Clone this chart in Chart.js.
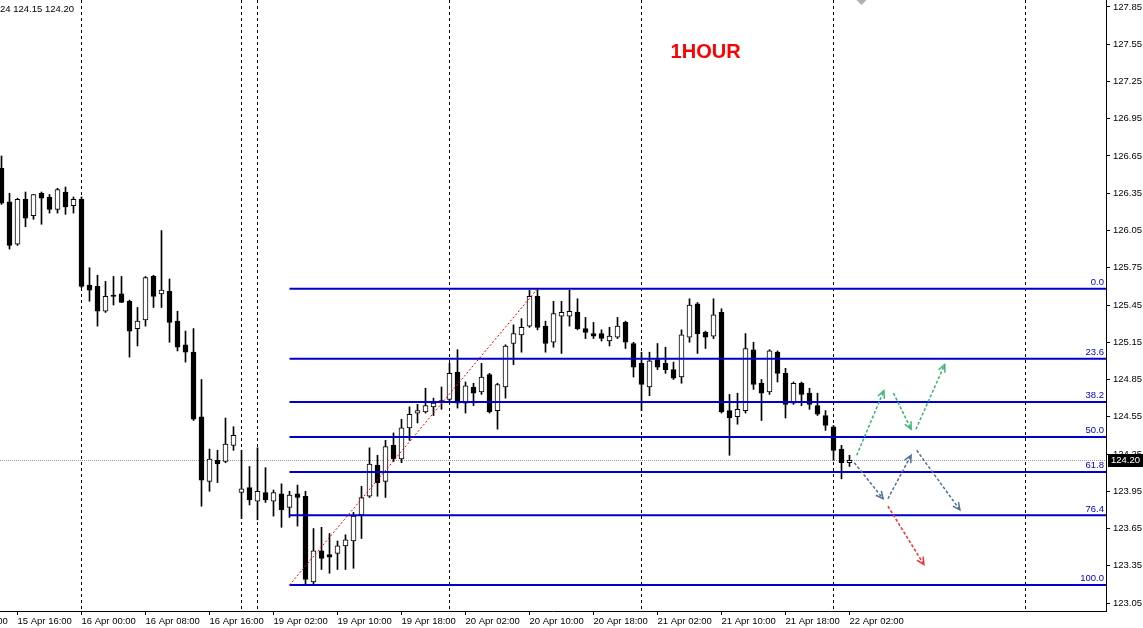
<!DOCTYPE html>
<html>
<head>
<meta charset="utf-8">
<script src="https://cdn.jsdelivr.net/npm/chart.js@4.4.0/dist/chart.umd.min.js"></script>
<style>
html, body { margin: 0; padding: 0; background: #fff; }
#wrap { width: 1143px; height: 628px; }
</style>
</head>
<body>
<div id="wrap"><canvas id="chart" width="1143" height="628"></canvas></div>
<script>
// H1 candles, bar 0 = 15 Apr 14:00 (bar index is the x value)
const opens = [126.55,126.28,125.94,126.30,126.17,126.35,126.32,126.22,126.36,126.25,
  126.30,125.61,125.60,125.40,125.53,125.54,125.48,125.26,125.33,125.68,
  125.54,125.56,125.32,125.13,125.07,124.55,124.03,124.20,124.19,124.32,
  123.94,123.98,123.87,123.94,123.87,123.93,123.82,123.93,123.91,123.22,
  123.47,123.44,123.45,123.51,123.55,123.76,123.91,124.16,124.03,124.32,
  124.21,124.46,124.58,124.59,124.63,124.68,124.69,124.91,124.66,124.79,
  124.75,124.89,124.60,124.79,125.14,125.21,125.28,125.52,125.28,125.15,
  125.36,125.36,125.39,125.26,125.22,125.22,125.16,125.19,125.31,125.14,
  124.98,124.79,125.01,124.98,124.93,124.87,125.19,125.46,125.23,125.20,
  125.39,124.60,124.55,124.60,125.09,124.82,124.75,125.07,124.90,124.66,
  124.82,124.74,124.64,124.56,124.47,124.29,124.18];
const highs = [126.65,126.35,126.31,126.36,126.34,126.36,126.34,126.39,126.40,126.32,
  126.32,125.75,125.69,125.64,125.68,125.68,125.49,125.43,125.68,125.69,
  126.05,125.66,125.40,125.24,125.26,124.85,124.29,124.28,124.54,124.47,
  124.28,124.15,124.30,124.14,123.96,124.01,123.95,124.00,123.95,123.65,
  123.66,123.61,123.55,123.60,123.78,123.99,124.30,124.24,124.36,124.42,
  124.53,124.63,124.65,124.78,124.70,124.79,124.98,125.09,124.83,124.82,
  124.98,124.90,124.82,125.13,125.29,125.34,125.57,125.58,125.32,125.48,
  125.48,125.57,125.50,125.35,125.31,125.25,125.27,125.35,125.32,125.15,
  125.07,125.07,125.14,125.11,124.99,125.25,125.50,125.47,125.24,125.50,
  125.42,124.73,124.74,125.22,125.15,124.85,125.09,125.08,124.94,124.83,
  124.83,124.78,124.74,124.60,124.48,124.32,124.24];
const lows = [126.26,125.90,125.93,126.08,126.14,126.10,126.19,126.19,126.18,126.19,
  125.59,125.48,125.28,125.39,125.45,125.47,125.03,125.12,125.28,125.43,
  125.43,125.15,125.08,124.99,124.52,123.83,123.95,124.02,124.18,124.28,
  123.73,123.84,123.72,123.86,123.75,123.66,123.74,123.67,123.20,123.20,
  123.32,123.29,123.32,123.32,123.33,123.57,123.90,123.91,123.90,124.19,
  124.18,124.36,124.50,124.58,124.56,124.61,124.67,124.62,124.58,124.64,
  124.73,124.58,124.45,124.70,124.97,125.07,125.27,125.25,125.07,125.11,
  125.06,125.28,125.25,125.18,125.18,125.16,125.12,125.18,125.10,124.87,
  124.60,124.72,124.93,124.90,124.85,124.82,125.15,125.06,125.10,125.18,
  124.58,124.24,124.49,124.58,124.77,124.52,124.73,124.83,124.54,124.65,
  124.64,124.61,124.56,124.44,124.20,124.05,124.15];
const closes = [126.27,125.93,126.30,126.15,126.34,126.31,126.22,126.38,126.24,126.30,
  125.60,125.57,125.40,125.52,125.52,125.47,125.24,125.32,125.67,125.52,
  125.57,125.31,125.11,125.07,124.53,124.04,124.21,124.17,124.33,124.40,
  123.97,123.88,123.95,123.88,123.94,123.80,123.92,123.90,123.24,123.47,
  123.41,123.42,123.51,123.56,123.75,123.90,124.17,124.02,124.31,124.21,
  124.46,124.57,124.60,124.64,124.66,124.67,124.90,124.66,124.80,124.74,
  124.87,124.59,124.81,125.12,125.22,125.27,125.52,125.27,125.14,125.38,
  125.39,125.40,125.26,125.23,125.20,125.18,125.20,125.28,125.15,124.95,
  124.81,125.00,124.95,124.93,124.86,125.21,125.45,125.22,125.19,125.37,
  124.59,124.54,124.61,125.10,124.81,124.74,125.08,124.90,124.65,124.82,
  124.73,124.65,124.57,124.48,124.28,124.18,124.20];

// time axis labels (bar index of each label)
const tickBars = [-6, 2, 10, 18, 26, 34, 42, 50, 58, 66, 74, 82, 90, 98, 106];
const timeLabels = ['15 Apr 08:00', '15 Apr 16:00', '16 Apr 00:00', '16 Apr 08:00', '16 Apr 16:00',
  '19 Apr 02:00', '19 Apr 10:00', '19 Apr 18:00', '20 Apr 02:00', '20 Apr 10:00',
  '20 Apr 18:00', '21 Apr 02:00', '21 Apr 10:00', '21 Apr 18:00', '22 Apr 02:00'];
// day separators
const separatorBars = [10, 30, 32, 56, 80, 104, 128];
const priceTicks = [123.05, 123.35, 123.65, 123.95, 124.25, 124.55, 124.85, 125.15, 125.45,
  125.75, 126.05, 126.35, 126.65, 126.95, 127.25, 127.55, 127.85];

// fibonacci retracement
const fibLevels = [0.0, 23.6, 38.2, 50.0, 61.8, 76.4, 100.0];
const fibHigh = 125.58, fibLow = 123.195;
const fibLowBar = 36, fibHighBar = 67;

// projected paths: [fromBar, fromPrice, toBar, toPrice]
const arrowsGreen = [[106.9, 124.24, 110.3, 124.76], [111.5, 124.74, 113.7, 124.45], [114.3, 124.45, 117.9, 124.97]];
const arrowsBlue = [[106.6, 124.18, 110.2, 123.89], [110.8, 123.89, 113.7, 124.24], [114.4, 124.28, 119.8, 123.80]];
const arrowsRed = [[110.8, 123.83, 115.3, 123.36]];

const lastPrice = closes[closes.length - 1];
const infoText = '24 124.15 124.20';
const titleText = '1HOUR';

const xMin = -0.1875, xMax = xMin + 1106 / 8;
const yMin = 122.986, yMax = 127.906;
const fibBlue = '#0000cd';
const tickFont = { family: 'Liberation Sans', size: 9.5 };

function fibPrice(lvl) {
    return fibHigh - (fibHigh - fibLow) * lvl / 100;
}

const wickData = highs.map((h, i) => ({ x: i, y: [lows[i], h] }));
const bodyData = opens.map((o, i) => ({ x: i, y: [o, closes[i]] }));
const isUp = i => closes[i] >= opens[i];

const fibSets = fibLevels.map(lvl => ({
    type: 'line',
    data: [{ x: fibLowBar, y: fibPrice(lvl) }, { x: xMax, y: fibPrice(lvl) }],
    borderColor: fibBlue,
    borderWidth: 2,
    pointRadius: 0,
    order: -1
}));

function drawArrow(ctx, x, y, seg, color) {
    const x1 = x.getPixelForValue(seg[0]), y1 = y.getPixelForValue(seg[1]);
    const x2 = x.getPixelForValue(seg[2]), y2 = y.getPixelForValue(seg[3]);
    ctx.strokeStyle = color;
    ctx.lineWidth = 1.5;
    ctx.setLineDash([3, 2]);
    ctx.beginPath();
    ctx.moveTo(x1, y1);
    ctx.lineTo(x2, y2);
    ctx.stroke();
    // open arrow head
    const ang = Math.atan2(y2 - y1, x2 - x1);
    ctx.setLineDash([]);
    ctx.beginPath();
    ctx.moveTo(x2 - 8 * Math.cos(ang - 0.45), y2 - 8 * Math.sin(ang - 0.45));
    ctx.lineTo(x2, y2);
    ctx.lineTo(x2 - 8 * Math.cos(ang + 0.45), y2 - 8 * Math.sin(ang + 0.45));
    ctx.stroke();
}

const overlay = {
    id: 'overlay',
    beforeDatasetsDraw(chart) {
        const { ctx, chartArea: a, scales: { x, y } } = chart;
        ctx.save();
        ctx.lineWidth = 1;
        // period separators
        ctx.strokeStyle = '#000';
        ctx.setLineDash([3, 3]);
        separatorBars.forEach(b => {
            const px = Math.floor(x.getPixelForValue(b)) + 0.5;
            ctx.beginPath();
            ctx.moveTo(px, a.top);
            ctx.lineTo(px, a.bottom);
            ctx.stroke();
        });
        // last price line
        const py = Math.floor(y.getPixelForValue(lastPrice)) + 0.5;
        ctx.strokeStyle = '#999';
        ctx.setLineDash([1, 1]);
        ctx.beginPath();
        ctx.moveTo(a.left, py);
        ctx.lineTo(a.right, py);
        ctx.stroke();
        ctx.restore();
    },
    afterDatasetsDraw(chart) {
        const { ctx, chartArea: a, scales: { x, y } } = chart;
        ctx.save();
        // fib level labels
        ctx.font = '9.5px "Liberation Sans"';
        ctx.fillStyle = fibBlue;
        ctx.textAlign = 'right';
        ctx.textBaseline = 'bottom';
        fibLevels.forEach(lvl => {
            ctx.fillText(lvl.toFixed(1), a.right - 2, y.getPixelForValue(fibPrice(lvl)) - 1.5);
        });
        // projection arrows
        arrowsGreen.forEach(s => drawArrow(ctx, x, y, s, '#3cb371'));
        arrowsBlue.forEach(s => drawArrow(ctx, x, y, s, '#4f6d9a'));
        arrowsRed.forEach(s => drawArrow(ctx, x, y, s, '#ff3030'));
        // chart shift marker
        const sx = x.getPixelForValue(107.5);
        ctx.fillStyle = '#b0b0b0';
        ctx.beginPath();
        ctx.moveTo(sx - 5, a.top);
        ctx.lineTo(sx + 5, a.top);
        ctx.lineTo(sx, a.top + 5);
        ctx.closePath();
        ctx.fill();
        // title
        ctx.font = 'bold 20px "Liberation Sans"';
        ctx.fillStyle = '#ff0000';
        ctx.textAlign = 'center';
        ctx.textBaseline = 'middle';
        ctx.fillText(titleText, a.left + a.width * 0.638, 52);
        // info text
        ctx.font = '9.5px "Liberation Sans"';
        ctx.fillStyle = '#000';
        ctx.textAlign = 'left';
        ctx.fillText(infoText, 0, 9);
        ctx.restore();
    },
    afterDraw(chart) {
        const { ctx, chartArea: a, scales: { y } } = chart;
        const py = Math.round(y.getPixelForValue(lastPrice));
        ctx.save();
        ctx.fillStyle = '#000';
        ctx.fillRect(a.right + 2, py - 6, 35, 13);
        ctx.fillStyle = '#fff';
        ctx.font = '9.5px "Liberation Sans"';
        ctx.textAlign = 'left';
        ctx.textBaseline = 'middle';
        ctx.fillText(lastPrice.toFixed(2), a.right + 5, py + 0.5);
        ctx.restore();
    }
};

new Chart(document.getElementById('chart'), {
    type: 'bar',
    data: {
        datasets: [
            {
                // wicks
                data: wickData,
                backgroundColor: '#000',
                borderWidth: 0,
                barThickness: 1,
                grouped: false,
                order: 3
            },
            {
                // bodies
                data: bodyData,
                backgroundColor: ctx => isUp(ctx.dataIndex) ? '#fff' : '#000',
                borderColor: '#000',
                borderWidth: 1,
                borderSkipped: false,
                barThickness: 5,
                minBarLength: 1,
                grouped: false,
                order: 2
            },
            ...fibSets,
            {
                type: 'line',
                data: [{ x: fibLowBar, y: fibLow }, { x: fibHighBar, y: fibHigh }],
                borderColor: '#ff0000',
                borderWidth: 1,
                borderDash: [2, 2],
                pointRadius: 0,
                order: -2
            }
        ]
    },
    options: {
        responsive: false,
        animation: false,
        layout: { padding: 0 },
        plugins: {
            legend: { display: false },
            tooltip: { enabled: false }
        },
        scales: {
            x: {
                type: 'linear',
                min: xMin,
                max: xMax,
                offset: false,
                grid: { offset: false, drawOnChartArea: false, drawTicks: true, tickLength: 4, color: '#000' },
                border: { display: true, color: '#000' },
                ticks: {
                    autoSkip: false,
                    maxRotation: 0,
                    minRotation: 0,
                    align: 'start',
                    padding: 1,
                    color: '#000',
                    font: tickFont,
                    callback: (v, i) => timeLabels[i]
                },
                afterBuildTicks: s => { s.ticks = tickBars.map(v => ({ value: v })); },
                afterFit: s => { s.height = 17; s.paddingLeft = 0; s.paddingRight = 0; }
            },
            y: {
                type: 'linear',
                position: 'right',
                min: yMin,
                max: yMax,
                grid: { drawOnChartArea: false, drawTicks: true, tickLength: 4, color: '#000' },
                border: { display: true, color: '#000' },
                ticks: {
                    padding: 3,
                    color: '#000',
                    font: tickFont,
                    callback: v => v.toFixed(2)
                },
                afterBuildTicks: s => { s.ticks = priceTicks.map(v => ({ value: v })); },
                afterFit: s => { s.width = 37; s.paddingTop = 0; s.paddingBottom = 0; }
            }
        }
    },
    plugins: [overlay]
});
</script>
</body>
</html>
